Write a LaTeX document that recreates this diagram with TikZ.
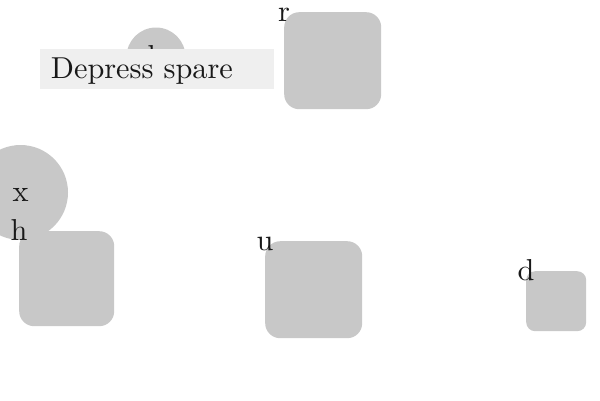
\documentclass[tikz,border=0pt]{standalone}
\usepackage{fontspec}
\setmainfont{lmroman10-regular}[Extension=.otf]
\definecolor{shapegray}{HTML}{C8C8C8}
\definecolor{labelgray}{HTML}{EFEFEF}
\begin{document}
\begin{tikzpicture}[x=1pt,y=-1pt,
  every node/.style={font=\fontsize{30.3}{36}\selectfont},
  sq/.style={fill=shapegray,draw=none,rounded corners=15pt,inner sep=0pt,minimum width=#1,minimum height=#1,anchor=north west},
  circ/.style={fill=shapegray,draw=none,circle,inner sep=0pt,minimum size=#1},
  txt/.style={inner sep=0pt,text=black!90,anchor=base,yshift=-9pt}]
\useasboundingbox (0,0) rectangle (600,400);
% circles
\node[circ=95] (cx) at (20.5,192.5) {};
\node[txt] (tx) at (cx.center) {x};
\node[circ=59] (cb) at (156,57) {};
\node[txt] (tb) at (cb.center) {b};
% squares
\node[sq=97] (sr) at (284,12) {};
\node[sq=95] (sh) at (19,231) {};
\node[sq=97] (su) at (265,241) {};
\node[sq=60,rounded corners=9pt] (sd) at (526,271) {};
% label box
\node[fill=labelgray,anchor=north west,inner sep=0pt,minimum width=234pt,minimum height=40pt] (lbl) at (40,49) {};
\node[txt,anchor=base west] (lbltxt) at ([xshift=10.7pt]lbl.west) {Depress spare};
% corner labels
\node[txt] (tr) at (sr.north west) {r};
\node[txt] (th) at (sh.north west) {h};
\node[txt] (tu) at (su.north west) {u};
\node[txt] (td) at (sd.north west) {d};
\end{tikzpicture}
\end{document}
